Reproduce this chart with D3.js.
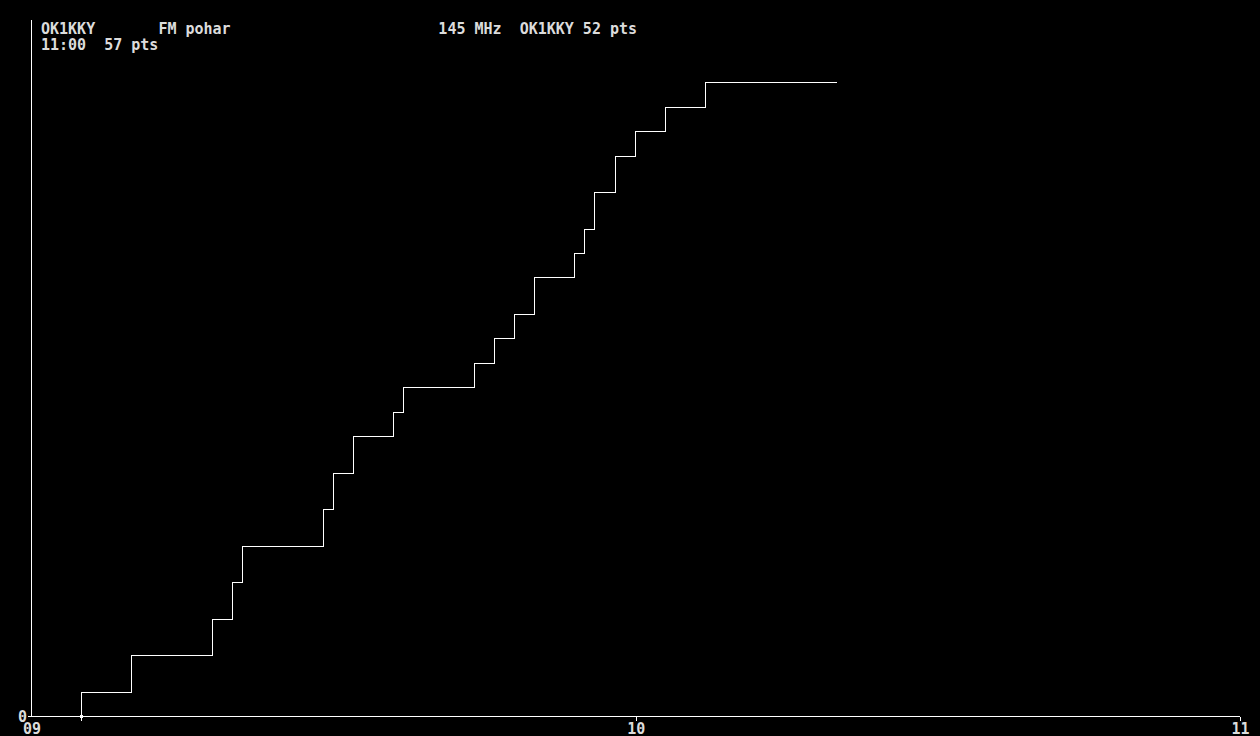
<!DOCTYPE html>
<html>
<head>
<meta charset="utf-8">
<script src="https://cdn.jsdelivr.net/npm/d3@7/dist/d3.min.js"></script>
<style>
    html, body { margin: 0; padding: 0; background: #000; }
    svg { display: block; }
    text { font-family: "DejaVu Sans Mono", "Liberation Mono", monospace; font-size: 15px; font-weight: bold; fill: #dcdcdc; white-space: pre; }
</style>
</head>
<body>
<svg id="chart" width="1260" height="736"></svg>
<script>
    'use strict';

    // --- Data ------------------------------------------------------------

    // header info
    var station = 'OK1KKY',
        contest = 'FM pohar',
        band = '145 MHz',
        clockNow = '11:00',
        claimedPts = 57;

    // QSO times, in minutes after 09:00
    var qsoMinutes = [5, 10, 18, 20, 21, 29, 30, 32, 36, 37, 44,
                      46, 48, 50, 54, 55, 56, 58, 60, 63, 67];

    // running score after each QSO
    var scorePts = [2, 5, 8, 11, 14, 17, 20, 23, 25, 27, 29,
                    31, 33, 36, 38, 40, 43, 46, 48, 50, 52];

    // last minute shown for the score line
    var lastMinute = 80;

    // hour ticks on the time axis
    var hourTicks = [0, 60, 120],
        hourLabels = ['09', '10', '11'];

    // --- Scales ----------------------------------------------------------

    var svg = d3.select('#chart'),
        x = d3.scaleLinear().domain([0, 120]).range([31, 1239.5]),
        y = d3.scaleLinear().domain([0, claimedPts]).range([716.4, 21.4]);

    // snap to pixel centres, so the 1px lines stay sharp
    function px(t) { return Math.floor(x(t)) + 0.5; }
    function py(v) { return Math.round(y(v)) + 0.5; }

    svg.append('rect').attr('width', 1260).attr('height', 736).attr('fill', '#000');

    // --- Header text -----------------------------------------------------

    var finalPts = scorePts[scorePts.length - 1];
    function pad(s, n) { while (s.length < n) { s += ' '; } return s; }

    svg.append('text')
        .attr('x', 41).attr('y', 34)
        .text(pad(pad(station, 13) + contest, 44) + band + '  ' + station + ' ' + finalPts + ' pts');

    svg.append('text')
        .attr('x', 41).attr('y', 50)
        .text(clockNow + '  ' + claimedPts + ' pts');

    // --- Axes ------------------------------------------------------------

    var xAxis = d3.axisBottom(x)
        .tickValues(hourTicks)
        .tickFormat(function (d, i) { return hourLabels[i]; })
        .tickSize(4)
        .tickSizeOuter(0);

    var gx = svg.append('g')
        .attr('transform', 'translate(0.5,' + py(0) + ')')
        .call(xAxis);

    gx.select('.domain').remove();
    gx.selectAll('.tick line').attr('stroke', '#fff').attr('shape-rendering', 'crispEdges');
    gx.selectAll('.tick:first-of-type line').remove();
    gx.selectAll('.tick text')
        .attr('fill', '#dcdcdc')
        .attr('font-family', null).attr('font-size', null)
        .attr('dy', '0.72em');

    svg.append('line')
        .attr('x1', 28).attr('x2', px(120) + 0.5)
        .attr('y1', py(0)).attr('y2', py(0))
        .attr('stroke', '#fff').attr('shape-rendering', 'crispEdges');

    svg.append('line')
        .attr('x1', px(0)).attr('x2', px(0))
        .attr('y1', 20).attr('y2', py(0))
        .attr('stroke', '#fff').attr('shape-rendering', 'crispEdges');

    svg.append('text')
        .attr('x', 27).attr('y', py(0) + 5.5)
        .attr('text-anchor', 'end')
        .text('0');

    // --- Score line ------------------------------------------------------

    var pts = [[px(qsoMinutes[0]), py(0)]];
    qsoMinutes.forEach(function (t, i) {
        var next = i + 1 < qsoMinutes.length ? qsoMinutes[i + 1] : lastMinute;
        pts.push([px(t), py(scorePts[i])]);
        pts.push([i + 1 < qsoMinutes.length ? px(next) : x(next), py(scorePts[i])]);
    });

    svg.append('path')
        .attr('d', d3.line()(pts))
        .attr('fill', 'none')
        .attr('stroke', '#fff')
        .attr('stroke-width', 1)
        .attr('shape-rendering', 'crispEdges');

    // start marker on the time axis
    svg.append('line')
        .attr('x1', px(qsoMinutes[0])).attr('x2', px(qsoMinutes[0]))
        .attr('y1', py(0)).attr('y2', py(0) + 4)
        .attr('stroke', '#fff').attr('shape-rendering', 'crispEdges');

    svg.append('rect')
        .attr('x', px(qsoMinutes[0]) - 1.5).attr('y', py(0) - 1.5)
        .attr('width', 3).attr('height', 3)
        .attr('fill', '#fff');
</script>
</body>
</html>
